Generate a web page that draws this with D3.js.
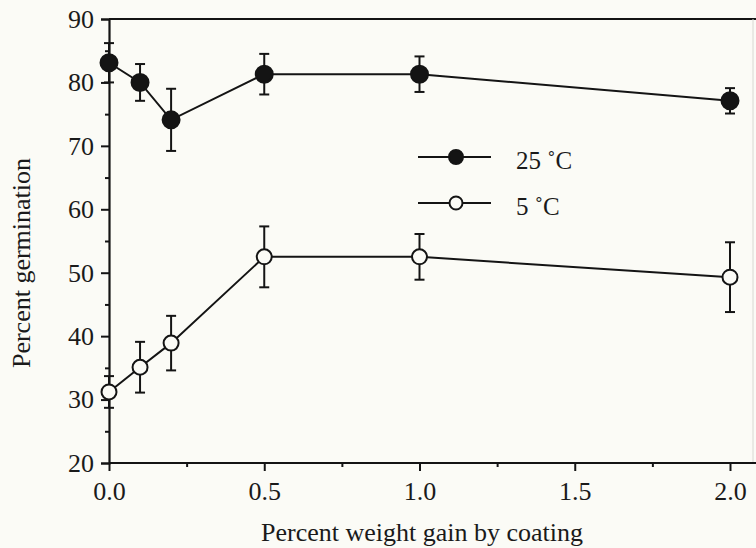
<!DOCTYPE html>
<html>
<head>
<meta charset="utf-8">
<script src="https://cdn.jsdelivr.net/npm/d3@7"></script>
<style>
  html, body { margin: 0; padding: 0; background: #fbfbf6; }
  svg { display: block; }
  text { font-family: "Liberation Serif", "Times New Roman", serif; fill: #1a1a1a; }
</style>
</head>
<body>
<svg id="chart" width="756" height="548"></svg>
<script>
// Coating level (% weight gain) and mean germination with error half-widths
const coating = [0.0, 0.1, 0.2, 0.5, 1.0, 2.0];
const germ25 = [83.1, 80.0, 74.1, 81.3, 81.3, 77.1];
const err25 = [3.1, 2.9, 4.9, 3.2, 2.8, 2.0];
const germ5 = [31.2, 35.1, 38.9, 52.5, 52.5, 49.3];
const err5 = [2.5, 4.0, 4.3, 4.8, 3.6, 5.5];
const xTicks = [0.0, 0.5, 1.0, 1.5, 2.0];
const xMinor = [0.25, 0.75, 1.25, 1.75];
const yTicks = [20, 30, 40, 50, 60, 70, 80, 90];
const yMinor = [25, 35, 45, 55, 65, 75, 85];
const seriesNames = ["25 \u02DAC", "5 \u02DAC"];

const svg = d3.select("#chart");
const x = d3.scaleLinear().domain([0, 2]).range([109, 730]);
const y = d3.scaleLinear().domain([20, 90]).range([463, 19]);
const ink = "#141414";
const paper = "#fbfbf6";

// frame: top line and faint right edge
svg.append("line").attr("x1", 109).attr("x2", 756).attr("y1", y(90)).attr("y2", y(90))
  .attr("stroke", ink).attr("stroke-width", 2);
svg.append("line").attr("x1", 753).attr("x2", 753).attr("y1", y(90)).attr("y2", y(20))
  .attr("stroke", "#d8d8d2").attr("stroke-width", 1);

// y axis
svg.append("g").attr("transform", "translate(109,0)")
  .call(d3.axisLeft(y).tickValues(yTicks).tickFormat(d3.format("d")).tickSize(8).tickPadding(7));
svg.append("g").attr("transform", "translate(109,0)")
  .call(d3.axisLeft(y).tickValues(yMinor).tickFormat("").tickSize(4))
  .call(g => g.select(".domain").remove());

// x axis
const xAxis = svg.append("g").attr("transform", `translate(0,${y(20)})`)
  .call(d3.axisBottom(x).tickValues(xTicks).tickFormat(d3.format(".1f")).tickSize(8).tickPadding(11));
svg.append("g").attr("transform", `translate(0,${y(20)})`)
  .call(d3.axisBottom(x).tickValues(xMinor).tickFormat("").tickSize(4))
  .call(g => g.select(".domain").remove());
xAxis.select(".domain").attr("d", `M${x(0)},0H756`);

svg.selectAll(".tick line").attr("stroke", ink).attr("stroke-width", 2);
svg.selectAll(".domain").attr("stroke", ink).attr("stroke-width", 2.2);
svg.selectAll(".tick text").attr("font-size", 26).attr("fill", "#1a1a1a")
  .style("font-family", "'Liberation Serif', serif");

// axis titles
svg.append("text").attr("x", 422).attr("y", 541).attr("text-anchor", "middle")
  .attr("font-size", 26).text("Percent weight gain by coating");
svg.append("text").attr("transform", "translate(30,263) rotate(-90)")
  .attr("text-anchor", "middle").attr("font-size", 26).text("Percent germination");

const line = d3.line().x((d, i) => x(coating[i])).y(d => y(d));

function drawSeries(vals, errs, filled) {
  const g = svg.append("g");
  g.append("path").datum(vals).attr("d", line)
    .attr("fill", "none").attr("stroke", ink).attr("stroke-width", 2);
  vals.forEach((v, i) => {
    const cx = x(coating[i]);
    const top = y(v + errs[i]), bot = y(v - errs[i]);
    g.append("line").attr("x1", cx).attr("x2", cx).attr("y1", top).attr("y2", bot)
      .attr("stroke", ink).attr("stroke-width", 2);
    [top, bot].forEach(cy => g.append("line").attr("x1", cx - 5).attr("x2", cx + 5)
      .attr("y1", cy).attr("y2", cy).attr("stroke", ink).attr("stroke-width", 2));
  });
  g.selectAll("circle").data(vals).join("circle")
    .attr("cx", (d, i) => x(coating[i])).attr("cy", d => y(d))
    .attr("r", filled ? 8.5 : 7.5)
    .attr("fill", filled ? ink : paper)
    .attr("stroke", ink).attr("stroke-width", 2);
}
drawSeries(germ25, err25, true);
drawSeries(germ5, err5, false);

// legend
const legend = svg.append("g");
const legendRows = [157, 203];
seriesNames.forEach((name, i) => {
  const ly = legendRows[i];
  legend.append("line").attr("x1", 418).attr("x2", 491).attr("y1", ly).attr("y2", ly)
    .attr("stroke", ink).attr("stroke-width", 2);
  legend.append("circle").attr("cx", 456).attr("cy", ly).attr("r", i === 0 ? 7 : 6.5)
    .attr("fill", i === 0 ? ink : paper).attr("stroke", ink).attr("stroke-width", 2);
  legend.append("text").attr("x", 516).attr("y", ly + 12).attr("font-size", 25).text(name);
});
</script>
</body>
</html>
